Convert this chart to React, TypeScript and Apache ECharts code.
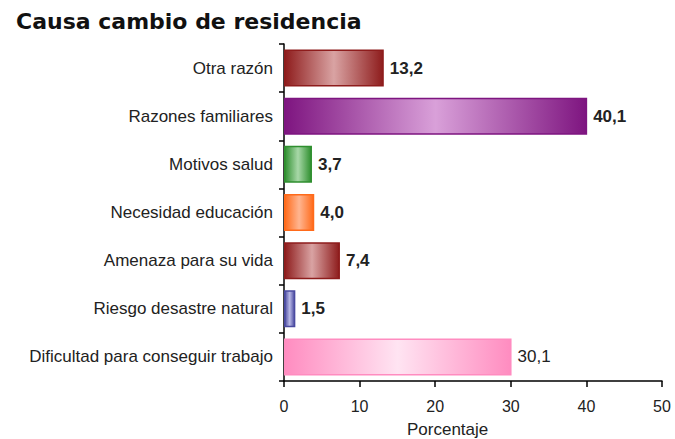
import React, { useEffect, useRef } from "react";
import * as echarts from "echarts";

const categories = [
  "Otra razón",
  "Razones familiares",
  "Motivos salud",
  "Necesidad educación",
  "Amenaza para su vida",
  "Riesgo desastre natural",
  "Dificultad para conseguir trabajo",
];
const values = [13.2, 40.1, 3.7, 4.0, 7.4, 1.5, 30.1];
const labelBold = [true, true, true, true, true, true, false];
const darkColors = ["#8e1c1c", "#7e1580", "#2f8f2f", "#ff6a1a", "#8e1c1c", "#4a4aa0", "#ff8cc0"];
const lightColors = ["#d9a3a3", "#d9a0d9", "#a8d8a8", "#ffb590", "#d9a3a3", "#b8b8e6", "#ffe4f2"];
const xTicks = [0, 10, 20, 30, 40, 50];

export default function App() {
  const ref = useRef<HTMLDivElement>(null);
  useEffect(() => {
    if (!ref.current) return;
    const chart = echarts.init(ref.current, undefined, { renderer: "svg" });
    const font = "'Liberation Sans', Arial, sans-serif";
    chart.setOption({
      animation: false,
      backgroundColor: "#ffffff",
      title: {
        text: "Causa cambio de residencia",
        left: 11,
        top: 5,
        textStyle: {
          fontFamily: "'DejaVu Sans', Verdana, sans-serif",
          fontWeight: "bold",
          fontSize: 22,
          color: "#111",
        },
      },
      grid: { left: 284, right: 13, top: 44, bottom: 58, containLabel: false },
      xAxis: {
        type: "value",
        min: xTicks[0],
        max: xTicks[xTicks.length - 1],
        interval: 10,
        splitLine: { show: false },
        axisLine: { show: true, lineStyle: { color: "#000", width: 1.5 } },
        axisTick: { show: true, length: 6, lineStyle: { color: "#000", width: 1.5 } },
        axisLabel: { margin: 17, fontFamily: font, fontSize: 16, color: "#222" },
      },
      yAxis: {
        type: "category",
        data: categories,
        inverse: true,
        axisLine: { show: true, lineStyle: { color: "#000", width: 1.5 } },
        axisTick: { show: true, length: 5, alignWithLabel: false, lineStyle: { color: "#000", width: 1.5 } },
        axisLabel: { margin: 11, fontFamily: font, fontSize: 17, color: "#222" },
      },
      graphic: [
        {
          type: "text",
          left: 407,
          top: 421,
          style: { text: "Porcentaje", fontFamily: font, fontSize: 17, fill: "#222" },
        },
      ],
      series: [
        {
          type: "bar",
          barWidth: 37,
          data: values.map((v, i) => ({
            value: v,
            itemStyle: {
              color: new echarts.graphic.LinearGradient(0, 0, 1, 0, [
                { offset: 0, color: darkColors[i] },
                { offset: 0.5, color: lightColors[i] },
                { offset: 1, color: darkColors[i] },
              ]),
              borderColor: darkColors[i],
              borderWidth: 1.5,
            },
            label: {
              show: true,
              position: "right",
              distance: 6,
              formatter: v.toFixed(1).replace(".", ","),
              fontFamily: font,
              fontSize: 17,
              fontWeight: labelBold[i] ? "bold" : "normal",
              color: "#222",
            },
          })),
        },
      ],
    });
    return () => chart.dispose();
  }, []);
  return <div ref={ref} style={{ width: 675, height: 439, position: "absolute", left: 0, top: 0 }} />;
}
